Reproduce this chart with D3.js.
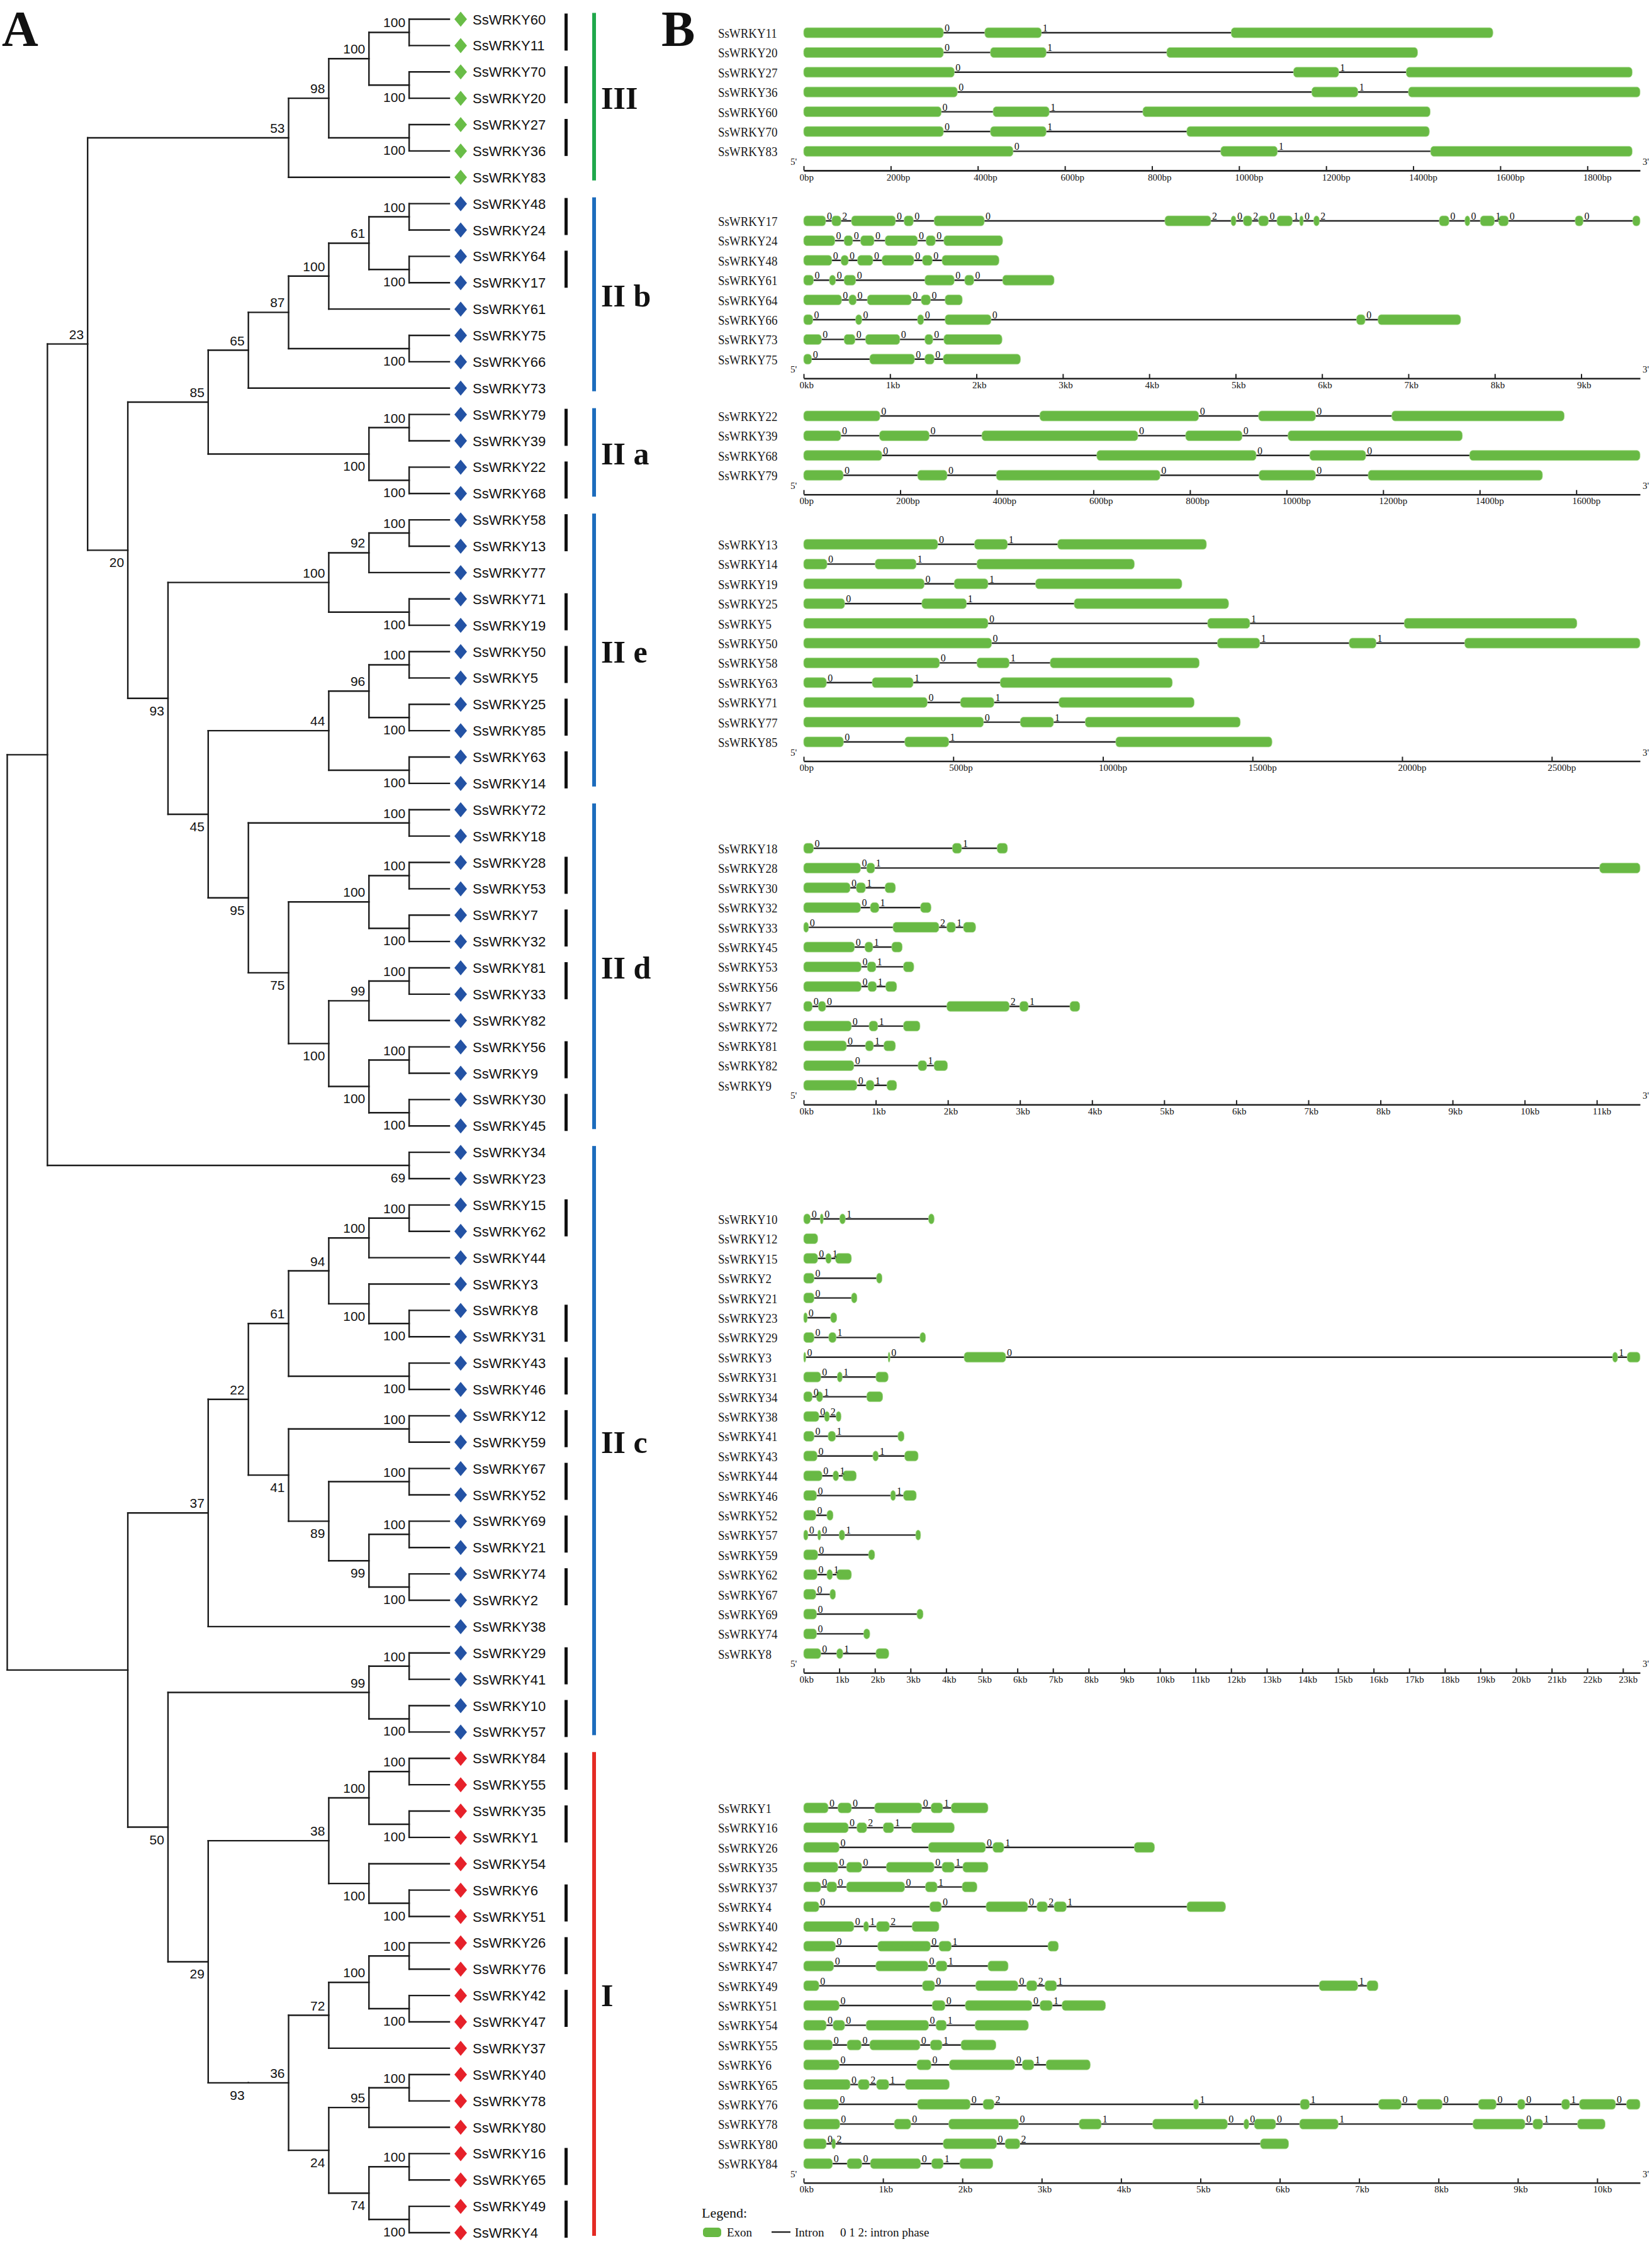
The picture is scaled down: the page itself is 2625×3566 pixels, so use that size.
<!DOCTYPE html>
<html><head><meta charset="utf-8">
<script src="https://cdn.jsdelivr.net/npm/d3@7"></script>
<style>body{margin:0;background:#fff}svg{display:block}</style>
</head><body>
<svg id="chart" width="2625" height="3566"></svg>
<script>
// ================= DATA =================
// Phylogenetic tree (Newick, leaf = SsWRKY number, internal label = bootstrap)
const cladeIII = "((((60,11)100,(70,20)100)100,(27,36)100)98,83)53";
const cladeIIbIIa = "((((((48,24)100,(64,17)100)61,61)100,(75,66)100)87,73)65,((79,39)100,(22,68)100)100)85";
const cladeIIeIId = "((((58,13)100,77)92,(71,19)100)100,((((50,5)100,(25,85)100)96,(63,14)100)44,((72,18)100,(((28,53)100,(7,32)100)100,(((81,33)100,82)99,((56,9)100,(30,45)100)100)100)75)95)45)93";
const cladeIIc = "((((((15,62)100,44)100,(3,(8,31)100)100)94,(43,46)100)61,((12,59)100,((67,52)100,((69,21)100,(74,2)100)99)89)41)22,38)37";
const cladeI = "(((29,41)100,(10,57)100)99,((((84,55)100,(35,1)100)100,(54,(6,51)100)100)38,(((((26,76)100,(42,47)100)100,37)72,(((40,78)100,80)95,((16,65)100,(49,4)100)74)24)36)93)29";
const treeNewick = "(((" + cladeIII + ",(" + cladeIIbIIa + "," + cladeIIeIId + ")20)23,(34,23)69),(" + cladeIIc + "," + cladeI + ")50);";

const groupLabels = ["III", "II b", "II a", "II e", "II d", "II c", "I"];
const membersIII = [60,11,70,20,27,36,83];
const membersIIb = [48,24,64,17,61,75,66,73];
const membersIIa = [79,39,22,68];
const membersIIe = [58,13,77,71,19,50,5,25,85,63,14];
const membersIId = [72,18,28,53,7,32,81,33,82,56,9,30,45];
const membersIIc = [34,23,15,62,44,3,8,31,43,46,12,59,67,52,69,21,74,2,38,29,41,10,57];
const membersI = [84,55,35,1,54,6,51,26,76,42,47,37,40,78,80,16,65,49,4];
const pairBars = [[60,11],[70,20],[27,36],[48,24],[64,17],[79,39],[22,68],[58,13],[71,19],[50,5],[25,85],[63,14],
  [28,53],[7,32],[81,33],[56,9],[30,45],[15,62],[8,31],[43,46],[12,59],[67,52],[69,21],[74,2],[29,41],[10,57],
  [84,55],[35,1],[6,51],[26,76],[42,47],[16,65],[49,4]];

// Gene structures: exons [start,end], intron phases
const genesIII = [ // bp
 {n:"SsWRKY11", e:[[0,321],[416,546],[982,1583]], p:[0,1]},
 {n:"SsWRKY20", e:[[0,321],[429,557],[834,1410]], p:[0,1]},
 {n:"SsWRKY27", e:[[0,346],[1125,1229],[1384,1903]], p:[0,1]},
 {n:"SsWRKY36", e:[[0,353],[1167,1273],[1389,1921]], p:[0,1]},
 {n:"SsWRKY60", e:[[0,316],[435,564],[779,1439]], p:[0,1]},
 {n:"SsWRKY70", e:[[0,321],[429,557],[880,1437]], p:[0,1]},
 {n:"SsWRKY83", e:[[0,481],[958,1088],[1440,1903]], p:[0,1]}
];
const genesIIb = [ // kb
 {n:"SsWRKY17", e:[[0,0.255],[0.326,0.432],[0.553,1.063],[1.162,1.269],[1.510,2.091],[4.181,4.713],[4.947,5.004],[5.089,5.188],[5.266,5.379],[5.478,5.656],[5.741,5.783],[5.904,5.968],[7.357,7.470],[7.654,7.711],[7.832,7.995],[8.044,8.157],[8.930,9.022],[9.596,9.681]], p:[0,2,0,0,0,2,0,2,0,1,0,2,0,0,1,0,0]},
 {n:"SsWRKY24", e:[[0,0.361],[0.468,0.567],[0.659,0.815],[0.943,1.318],[1.417,1.524],[1.623,2.303]], p:[0,0,0,0,0]},
 {n:"SsWRKY48", e:[[0,0.326],[0.432,0.517],[0.624,0.801],[0.907,1.276],[1.375,1.488],[1.602,2.261]], p:[0,0,0,0,0]},
 {n:"SsWRKY61", e:[[0,0.113],[0.298,0.369],[0.468,0.602],[1.403,1.743],[1.864,1.970],[2.303,2.899]], p:[0,0,0,0,0]},
 {n:"SsWRKY64", e:[[0,0.439],[0.524,0.609],[0.737,1.247],[1.361,1.467],[1.637,1.836]], p:[0,0,0,0]},
 {n:"SsWRKY66", e:[[0,0.106],[0.602,0.673],[1.318,1.389],[1.637,2.169],[6.400,6.499],[6.648,7.605]], p:[0,0,0,0,0]},
 {n:"SsWRKY73", e:[[0,0.206],[0.468,0.595],[0.716,1.113],[1.403,1.495],[1.623,2.296]], p:[0,0,0,0]},
 {n:"SsWRKY75", e:[[0,0.092],[0.765,1.283],[1.403,1.510],[1.616,2.509]], p:[0,0,0]}
];
const genesIIa = [ // bp
 {n:"SsWRKY22", e:[[0,158],[489,818],[942,1060],[1218,1575]], p:[0,0,0]},
 {n:"SsWRKY39", e:[[0,77],[157,260],[369,692],[791,908],[1003,1364]], p:[0,0,0,0]},
 {n:"SsWRKY68", e:[[0,162],[607,937],[1048,1164],[1379,1732]], p:[0,0,0]},
 {n:"SsWRKY79", e:[[0,82],[236,297],[399,738],[943,1060],[1169,1530]], p:[0,0,0,0]}
];
const genesIIe = [ // bp
 {n:"SsWRKY13", e:[[0,448],[571,681],[849,1346]], p:[0,1]},
 {n:"SsWRKY14", e:[[0,78],[239,376],[579,1105]], p:[0,1]},
 {n:"SsWRKY19", e:[[0,403],[503,616],[775,1264]], p:[0,1]},
 {n:"SsWRKY25", e:[[0,137],[395,544],[904,1420]], p:[0,1]},
 {n:"SsWRKY5",  e:[[0,616],[1350,1491],[2007,2584]], p:[0,1]},
 {n:"SsWRKY50", e:[[0,628],[1383,1524],[1823,1913],[2209,2795]], p:[0,1,1]},
 {n:"SsWRKY58", e:[[0,454],[579,687],[824,1322]], p:[0,1]},
 {n:"SsWRKY63", e:[[0,76],[229,366],[657,1232]], p:[0,1]},
 {n:"SsWRKY71", e:[[0,413],[524,636],[853,1305]], p:[0,1]},
 {n:"SsWRKY77", e:[[0,601],[724,835],[941,1459]], p:[0,1]},
 {n:"SsWRKY85", e:[[0,133],[338,485],[1043,1565]], p:[0,1]}
];
const genesIId = [ // kb
 {n:"SsWRKY18", e:[[0,0.136],[2.063,2.190],[2.683,2.827]], p:[0,1]},
 {n:"SsWRKY28", e:[[0,0.789],[0.874,0.985],[11.04,11.60]], p:[0,1]},
 {n:"SsWRKY30", e:[[0,0.645],[0.730,0.857],[1.129,1.273]], p:[0,1]},
 {n:"SsWRKY32", e:[[0,0.789],[0.925,1.044],[1.621,1.766]], p:[0,1]},
 {n:"SsWRKY33", e:[[0,0.068],[1.239,1.876],[1.986,2.105],[2.216,2.385]], p:[0,2,1]},
 {n:"SsWRKY45", e:[[0,0.705],[0.849,0.959],[1.222,1.367]], p:[0,1]},
 {n:"SsWRKY53", e:[[0,0.798],[0.883,1.002],[1.384,1.528]], p:[0,1]},
 {n:"SsWRKY56", e:[[0,0.798],[0.891,1.010],[1.138,1.290]], p:[0,1]},
 {n:"SsWRKY7",  e:[[0,0.119],[0.204,0.306],[1.986,2.852],[2.997,3.115],[3.693,3.829]], p:[0,0,2,1]},
 {n:"SsWRKY72", e:[[0,0.662],[0.908,1.027],[1.384,1.613]], p:[0,1]},
 {n:"SsWRKY81", e:[[0,0.594],[0.857,0.968],[1.112,1.273]], p:[0,1]},
 {n:"SsWRKY82", e:[[0,0.696],[1.587,1.706],[1.808,1.995]], p:[0,1]},
 {n:"SsWRKY9",  e:[[0,0.739],[0.866,0.976],[1.155,1.290]], p:[0,1]}
];
const genesIIc = [ // kb
 {n:"SsWRKY10", e:[[0,0.189],[0.464,0.550],[1.014,1.169],[3.507,3.662]], p:[0,0,1]},
 {n:"SsWRKY12", e:[[0,0.395]], p:[]},
 {n:"SsWRKY15", e:[[0,0.395],[0.619,0.774],[0.894,1.341]], p:[0,1]},
 {n:"SsWRKY2",  e:[[0,0.292],[2.046,2.200]], p:[0]},
 {n:"SsWRKY21", e:[[0,0.292],[1.341,1.496]], p:[0]},
 {n:"SsWRKY23", e:[[0,0.103],[0.756,0.928]], p:[0]},
 {n:"SsWRKY29", e:[[0,0.292],[0.705,0.911],[3.266,3.421]], p:[0,1]},
 {n:"SsWRKY3",  e:[[0,0.06],[2.372,2.424],[4.504,5.673],[22.71,22.85],[23.12,23.48]], p:[0,0,0,1]},
 {n:"SsWRKY31", e:[[0,0.481],[0.946,1.083],[2.029,2.372]], p:[0,1]},
 {n:"SsWRKY34", e:[[0,0.241],[0.361,0.533],[1.771,2.218]], p:[0,1]},
 {n:"SsWRKY38", e:[[0,0.430],[0.584,0.722],[0.911,1.049]], p:[0,2]},
 {n:"SsWRKY41", e:[[0,0.292],[0.688,0.894],[2.647,2.819]], p:[0,1]},
 {n:"SsWRKY43", e:[[0,0.378],[1.943,2.097],[2.836,3.215]], p:[0,1]},
 {n:"SsWRKY44", e:[[0,0.516],[0.825,0.980],[1.100,1.478]], p:[0,1]},
 {n:"SsWRKY46", e:[[0,0.361],[2.441,2.579],[2.802,3.163]], p:[0,1]},
 {n:"SsWRKY52", e:[[0,0.344],[0.653,0.825]], p:[0]},
 {n:"SsWRKY57", e:[[0,0.120],[0.395,0.481],[0.997,1.152],[3.146,3.283]], p:[0,0,1]},
 {n:"SsWRKY59", e:[[0,0.395],[1.822,1.994]], p:[0]},
 {n:"SsWRKY62", e:[[0,0.378],[0.653,0.808],[0.928,1.341]], p:[0,1]},
 {n:"SsWRKY67", e:[[0,0.344],[0.739,0.894]], p:[0]},
 {n:"SsWRKY69", e:[[0,0.361],[3.180,3.352]], p:[0]},
 {n:"SsWRKY74", e:[[0,0.361],[1.685,1.857]], p:[0]},
 {n:"SsWRKY8",  e:[[0,0.481],[0.928,1.100],[2.029,2.390]], p:[0,1]}
];
const genesI = [ // kb
 {n:"SsWRKY1",  e:[[0,0.309],[0.432,0.602],[0.895,1.489],[1.605,1.752],[1.860,2.323]], p:[0,0,0,1]},
 {n:"SsWRKY16", e:[[0,0.563],[0.671,0.795],[1.003,1.134],[1.358,1.898]], p:[0,2,1]},
 {n:"SsWRKY26", e:[[0,0.448],[1.574,2.292],[2.384,2.523],[4.167,4.421]], p:[0,0,1]},
 {n:"SsWRKY35", e:[[0,0.432],[0.540,0.733],[1.042,1.644],[1.744,1.898],[2.006,2.323]], p:[0,0,0,1]},
 {n:"SsWRKY37", e:[[0,0.216],[0.293,0.417],[0.540,1.273],[1.535,1.682],[1.998,2.184]], p:[0,0,0,1]},
 {n:"SsWRKY4",  e:[[0,0.193],[1.590,1.736],[2.299,2.824],[2.940,3.071],[3.156,3.310],[4.830,5.316]], p:[0,0,0,2,1]},
 {n:"SsWRKY40", e:[[0,0.633],[0.756,0.818],[0.918,1.080],[1.366,1.705]], p:[0,1,2]},
 {n:"SsWRKY42", e:[[0,0.401],[0.934,1.597],[1.705,1.860],[3.079,3.210]], p:[0,0,1]},
 {n:"SsWRKY47", e:[[0,0.378],[0.910,1.566],[1.667,1.806],[2.323,2.577]], p:[0,0,1]},
 {n:"SsWRKY49", e:[[0,0.193],[1.497,1.651],[2.168,2.701],[2.809,2.940],[3.040,3.187],[6.497,6.983],[7.099,7.238]], p:[0,0,0,2,1,1]},
 {n:"SsWRKY51", e:[[0,0.448],[1.620,1.782],[2.037,2.878],[2.978,3.133],[3.256,3.804]], p:[0,0,0,1]},
 {n:"SsWRKY54", e:[[0,0.285],[0.370,0.517],[0.787,1.574],[1.667,1.798],[2.160,2.832]], p:[0,0,0,1]},
 {n:"SsWRKY55", e:[[0,0.363],[0.548,0.725],[0.833,1.466],[1.597,1.744],[1.983,2.423]], p:[0,0,0,1]},
 {n:"SsWRKY6",  e:[[0,0.448],[1.427,1.605],[1.836,2.662],[2.755,2.901],[3.056,3.611]], p:[0,0,0,1]},
 {n:"SsWRKY65", e:[[0,0.586],[0.687,0.826],[0.918,1.073],[1.281,1.836]], p:[0,2,1]},
 {n:"SsWRKY76", e:[[0,0.440],[1.435,2.099],[2.261,2.400],[4.915,4.977],[6.258,6.373],[7.245,7.531],[7.731,8.048],[8.503,8.727],[8.997,9.090],[9.552,9.653],[9.776,10.231],[10.370,10.540]], p:[0,0,2,1,1,0,0,0,0,1,0]},
 {n:"SsWRKY78", e:[[0,0.455],[1.142,1.350],[1.829,2.708],[3.472,3.750],[4.398,5.340],[5.548,5.610],[5.679,5.949],[6.250,6.736],[8.434,9.090],[9.190,9.313],[9.753,10.100]], p:[0,0,0,1,0,0,0,1,0,1]},
 {n:"SsWRKY80", e:[[0,0.285],[0.355,0.401],[1.759,2.431],[2.539,2.724],[5.756,6.111]], p:[0,2,0,2]},
 {n:"SsWRKY84", e:[[0,0.363],[0.548,0.733],[0.841,1.474],[1.613,1.759],[1.968,2.384]], p:[0,0,0,1]}
];
const ticksIII = [0,200,400,600,800,1000,1200,1400,1600,1800];
const ticksIIb = [0,1,2,3,4,5,6,7,8,9];
const ticksIIa = [0,200,400,600,800,1000,1200,1400,1600];
const ticksIIe = [0,500,1000,1500,2000,2500];
const ticksIId = [0,1,2,3,4,5,6,7,8,9,10,11];
const ticksIIc = [0,1,2,3,4,5,6,7,8,9,10,11,12,13,14,15,16,17,18,19,20,21,22,23];
const ticksI = [0,1,2,3,4,5,6,7,8,9,10];

// ================= LAYOUT / STYLE =================
const W = 2625, H = 3566;
const svg = d3.select("#chart");
svg.append("rect").attr("width", W).attr("height", H).attr("fill", "#fff");
const SANS = "'Liberation Sans', Arial, sans-serif";
const SERIF = "'Liberation Serif', 'Times New Roman', serif";
const COL_GREEN_D = "#69bd47", COL_BLUE_D = "#2352a4", COL_RED_D = "#e6212a";
const COL_GREEN_BAR = "#1fa84b", COL_BLUE_BAR = "#1c6cbd", COL_RED_BAR = "#e42a23";
const EXON = "#68b944", EXON_EDGE = "#a8da8e";

svg.append("text").attr("x", 3).attr("y", 73).attr("font-family", SERIF).attr("font-weight", "bold")
  .attr("font-size", 80).attr("fill", "#111").text("A");
svg.append("text").attr("x", 1051).attr("y", 73).attr("font-family", SERIF).attr("font-weight", "bold")
  .attr("font-size", 80).attr("fill", "#111").text("B");

// ================= PANEL A: TREE =================
function parseNewick(s) {
  let i = 0;
  const tok = () => { let t = ""; while (i < s.length && /[0-9A-Za-z.]/.test(s[i])) t += s[i++]; return t; };
  function node() {
    if (s[i] === "(") {
      i++;
      const children = [node()];
      while (s[i] === ",") { i++; children.push(node()); }
      i++;
      const lab = tok();
      return { children, support: lab === "" ? null : +lab };
    }
    return { name: tok() };
  }
  return node();
}
const root = d3.hierarchy(parseNewick(treeNewick), d => d.children);
const leaves = root.leaves();
const xTree = d3.scaleLinear().domain([0, root.height]).range([714, 11.5]);
const yTree = d3.scaleLinear().domain([0, leaves.length - 1]).range([30.5, 3548]);
const leafIndex = {};
leaves.forEach((l, i) => { l.py = yTree(i); leafIndex[+l.data.name] = i; });
root.eachAfter(n => {
  n.px = xTree(n.height);
  if (n.children) n.py = (n.children[0].py + n.children[n.children.length - 1].py) / 2;
});

const gTree = svg.append("g").attr("stroke", "#1b1b1b").attr("stroke-width", 2.4).attr("stroke-linecap", "square");
root.each(n => {
  if (!n.children) return;
  gTree.append("line").attr("x1", n.px).attr("x2", n.px)
    .attr("y1", n.children[0].py).attr("y2", n.children[n.children.length - 1].py);
  n.children.forEach(c => gTree.append("line").attr("x1", n.px).attr("x2", c.px).attr("y1", c.py).attr("y2", c.py));
});
const gBoot = svg.append("g").attr("font-family", SANS).attr("font-size", 21).attr("fill", "#111").attr("text-anchor", "end");
root.each(n => {
  if (!n.children || n.data.support == null || !n.parent) return;
  const first = n.parent.children[0] === n;
  gBoot.append("text").attr("x", n.px - 6).attr("y", first ? n.py - 8 : n.py + 27).text(n.data.support);
});

const setIII = new Set(membersIII), setI = new Set(membersI);
const gLeaf = svg.append("g");
leaves.forEach(l => {
  const num = +l.data.name;
  const col = setIII.has(num) ? COL_GREEN_D : setI.has(num) ? COL_RED_D : COL_BLUE_D;
  gLeaf.append("path").attr("d", "M0,-12L10,0L0,12L-10,0Z").attr("fill", col)
    .attr("transform", `translate(732,${l.py})`);
  gLeaf.append("text").attr("x", 751).attr("y", l.py + 8).attr("font-family", SANS).attr("font-size", 22)
    .attr("fill", "#111").text("SsWRKY" + num);
});

// pair bars
pairBars.forEach(([a, b]) => {
  const y1 = yTree(leafIndex[a]) - 9, y2 = yTree(leafIndex[b]) + 8;
  svg.append("rect").attr("x", 897).attr("y", y1).attr("width", 5).attr("height", y2 - y1).attr("fill", "#111");
});
// subfamily bars and labels
const memberLists = [membersIII, membersIIb, membersIIa, membersIIe, membersIId, membersIIc, membersI];
const barColors = [COL_GREEN_BAR, COL_BLUE_BAR, COL_BLUE_BAR, COL_BLUE_BAR, COL_BLUE_BAR, COL_BLUE_BAR, COL_RED_BAR];
memberLists.forEach((m, k) => {
  const idx = m.map(v => leafIndex[v]);
  const i0 = d3.min(idx), i1 = d3.max(idx);
  const y1 = yTree(i0) - 10, y2 = yTree(i1) + 5;
  svg.append("rect").attr("x", 941).attr("y", y1).attr("width", 6).attr("height", y2 - y1).attr("fill", barColors[k]);
  const ym = (yTree(i0) + yTree(i1)) / 2;
  svg.append("text").attr("x", 955).attr("y", ym + 17).attr("font-family", SERIF).attr("font-weight", "bold")
    .attr("font-size", 50).attr("fill", "#111").attr("xml:space", "preserve").text(groupLabels[k]);
});

// ================= PANEL B: GENE STRUCTURES =================
const geneGroups = [genesIII, genesIIb, genesIIa, genesIIe, genesIId, genesIIc, genesI];
const tickLists = [ticksIII, ticksIIb, ticksIIa, ticksIIe, ticksIId, ticksIIc, ticksI];
const units = ["bp", "kb", "bp", "bp", "kb", "kb", "kb"];
const groupTop = [52, 351, 661, 865, 1348, 1937, 2873];
const ROW = 31.4, X0 = 1277, X1 = 2606, EXH = 16;

geneGroups.forEach((genes, k) => {
  const maxLen = d3.max(genes, g => d3.max(g.e, e => e[1]));
  const sx = d3.scaleLinear().domain([0, maxLen]).range([X0, X1]);
  const sy = d3.scalePoint().domain(genes.map(g => g.n)).range([groupTop[k], groupTop[k] + (genes.length - 1) * ROW]);
  const g = svg.append("g");
  genes.forEach(gene => {
    const y = sy(gene.n);
    g.append("text").attr("transform", `translate(1141,${y + 8}) scale(0.86,1)`)
      .attr("font-family", SERIF).attr("font-size", 22).attr("fill", "#1a1a1a").text(gene.n);
    const s = gene.e[0][0], e = gene.e[gene.e.length - 1][1];
    if (gene.e.length > 1)
      g.append("line").attr("x1", sx(s)).attr("x2", sx(e)).attr("y1", y).attr("y2", y)
        .attr("stroke", "#262626").attr("stroke-width", 2.4);
    gene.e.forEach(([a, b]) => {
      const w = Math.max(sx(b) - sx(a), 2.5);
      g.append("rect").attr("x", sx(a)).attr("y", y - EXH / 2).attr("width", w).attr("height", EXH)
        .attr("rx", Math.min(w / 2, 5)).attr("ry", EXH / 2 * 0.75)
        .attr("fill", EXON).attr("stroke", EXON_EDGE).attr("stroke-width", 0.8);
    });
    gene.p.forEach((ph, i) => {
      g.append("text").attr("x", sx(gene.e[i][1]) + 2).attr("y", y - 2)
        .attr("font-family", SERIF).attr("font-size", 16).attr("fill", "#111").text(ph);
    });
  });
  const axisY = groupTop[k] + (genes.length - 1) * ROW + 30.5;
  const ax = svg.append("g").attr("transform", `translate(0,${axisY})`)
    .call(d3.axisBottom(sx).tickValues(tickLists[k]).tickSizeInner(-7).tickSizeOuter(0).tickPadding(5)
      .tickFormat(d => d + units[k]));
  ax.select(".domain").attr("stroke", "#222").attr("stroke-width", 2.6);
  ax.selectAll(".tick line").attr("stroke", "#222").attr("stroke-width", 2);
  ax.selectAll(".tick text").attr("text-anchor", "start").attr("x", -7)
    .attr("font-family", SERIF).attr("font-size", 15).attr("fill", "#111");
  svg.append("text").attr("x", 1256).attr("y", axisY - 9).attr("font-family", SERIF).attr("font-size", 15).attr("fill", "#111").text("5'");
  svg.append("text").attr("x", 2610).attr("y", axisY - 9).attr("font-family", SERIF).attr("font-size", 15).attr("fill", "#111").text("3'");
});

// legend
const lg = svg.append("g").attr("font-family", SERIF).attr("fill", "#111");
lg.append("text").attr("x", 1115).attr("y", 3524).attr("font-size", 22).text("Legend:");
lg.append("rect").attr("x", 1117).attr("y", 3540).attr("width", 29).attr("height", 15).attr("rx", 5).attr("fill", EXON);
lg.append("text").attr("x", 1155).attr("y", 3554).attr("font-size", 19).text("Exon");
lg.append("line").attr("x1", 1226).attr("x2", 1256).attr("y1", 3547).attr("y2", 3547).attr("stroke", "#222").attr("stroke-width", 2.4);
lg.append("text").attr("x", 1263).attr("y", 3554).attr("font-size", 19).text("Intron");
lg.append("text").attr("x", 1335).attr("y", 3554).attr("font-size", 19).text("0 1 2: intron phase");
</script>
</body></html>
